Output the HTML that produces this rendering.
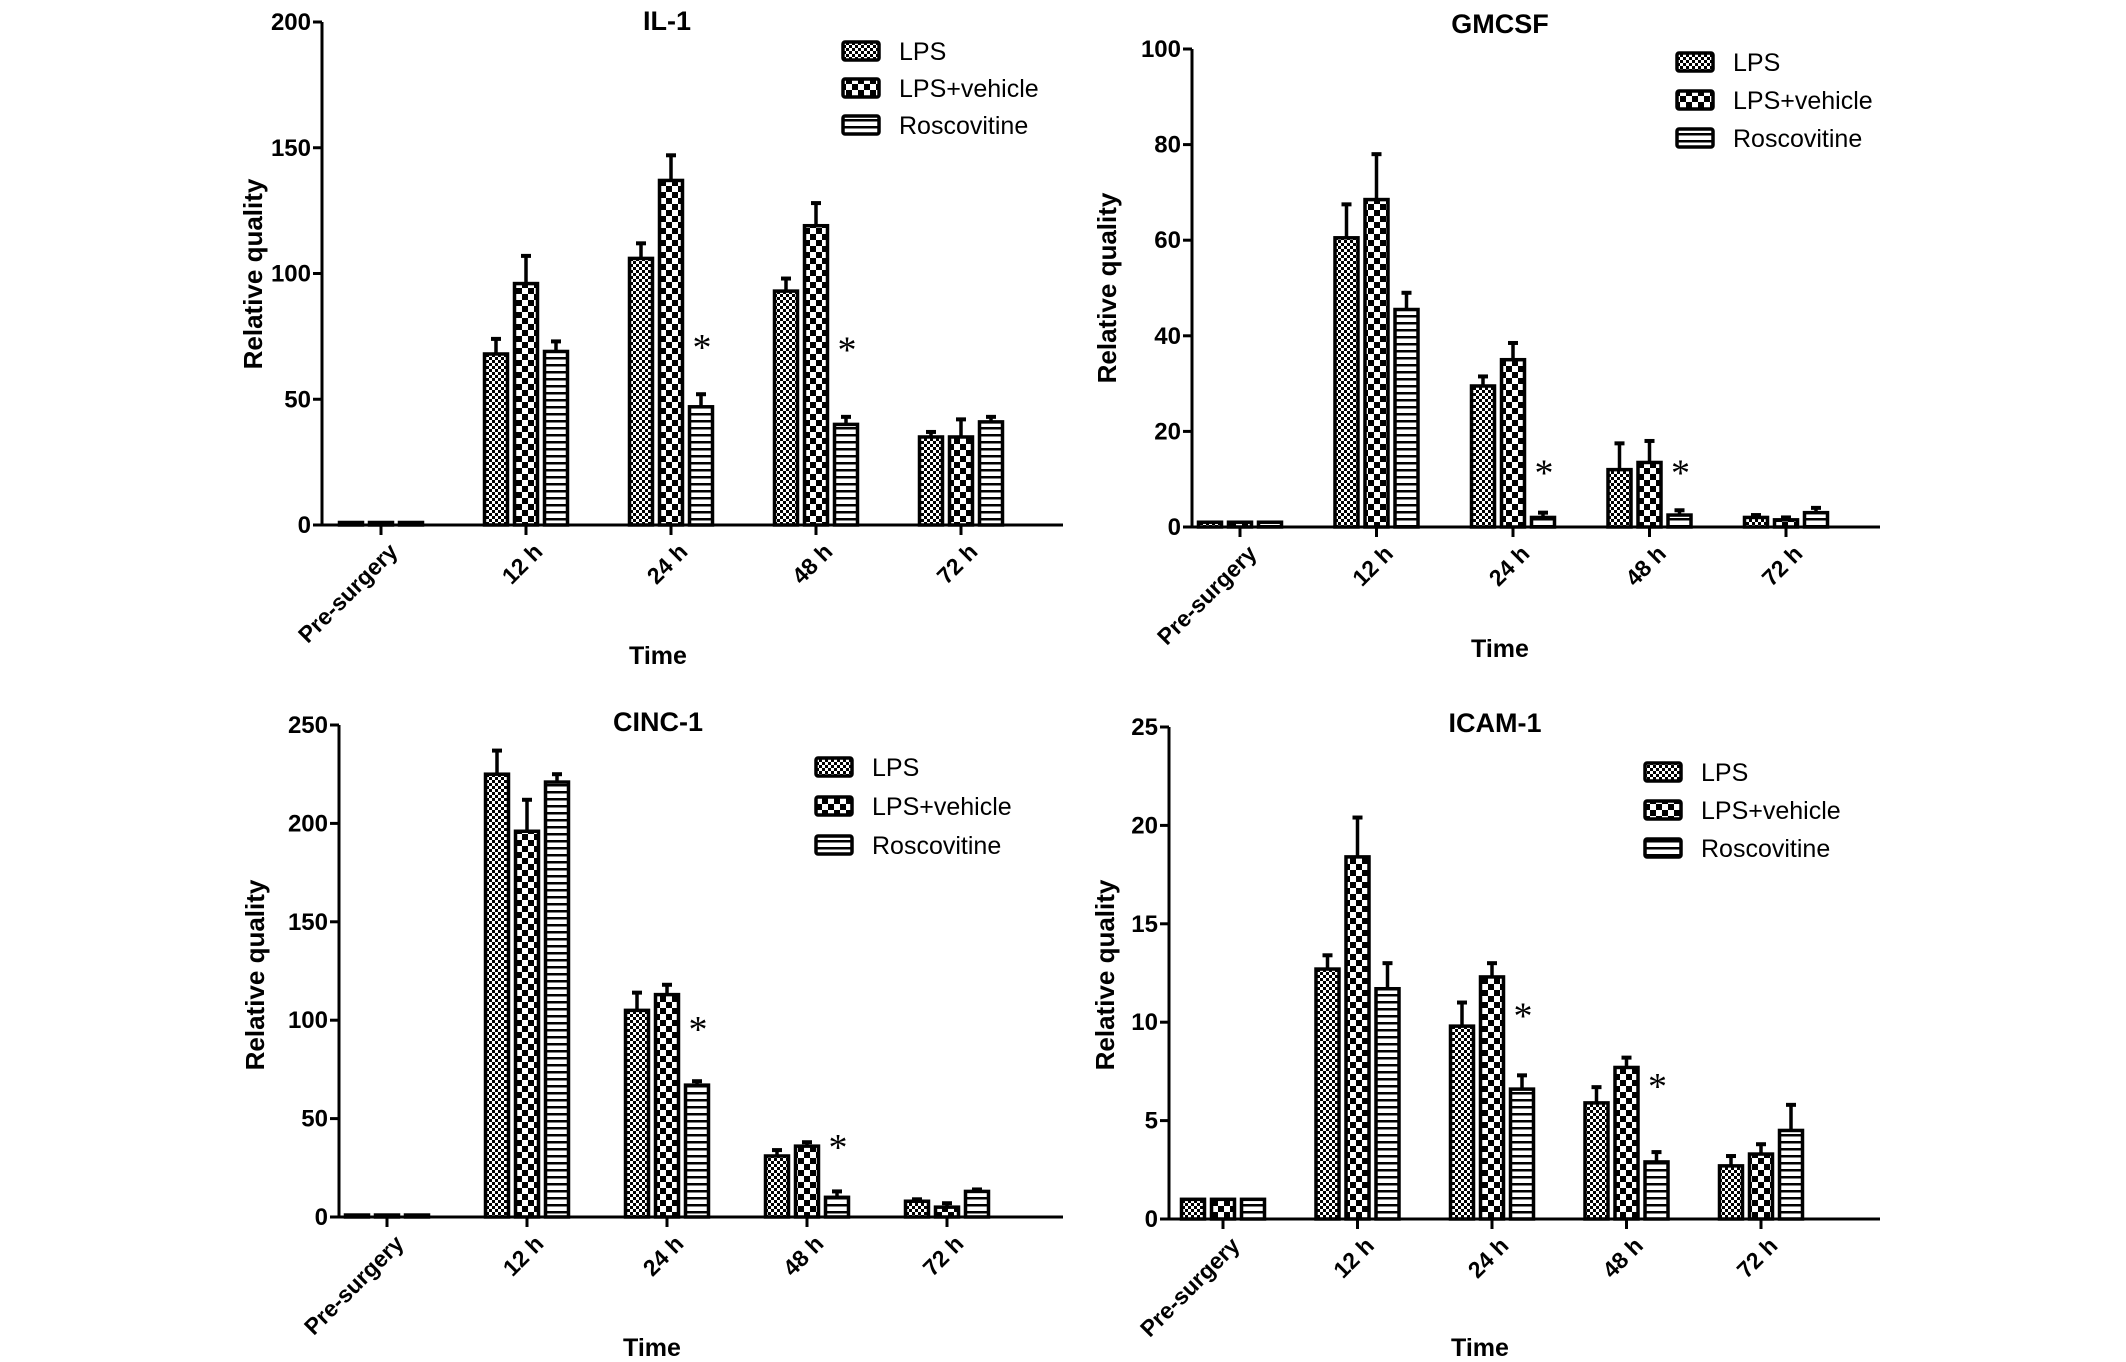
<!DOCTYPE html>
<html><head><meta charset="utf-8">
<style>
html,body{margin:0;padding:0;background:#fff;}
svg{display:block;font-family:"Liberation Sans",Arial,sans-serif;}
</style></head>
<body>
<svg id="fig" width="2126" height="1362" viewBox="0 0 2126 1362" xmlns="http://www.w3.org/2000/svg">
<defs>
<pattern id="pLPS" width="6" height="6" patternUnits="userSpaceOnUse">
<rect width="6" height="6" fill="#fff"/><rect width="3" height="3" fill="#000"/><rect x="3" y="3" width="3" height="3" fill="#000"/>
</pattern>
<pattern id="pVeh" width="12" height="12" patternUnits="userSpaceOnUse">
<rect width="12" height="12" fill="#fff"/><rect width="6" height="6" fill="#000"/><rect x="6" y="6" width="6" height="6" fill="#000"/>
</pattern>
<pattern id="pRos" width="6" height="7" patternUnits="userSpaceOnUse">
<rect width="6" height="7" fill="#fff"/><rect width="6" height="2.5" fill="#000"/>
</pattern>
</defs>
</svg>
<script>
const categories = ["Pre-surgery","12 h","24 h","48 h","72 h"];
const seriesNames = ["LPS","LPS+vehicle","Roscovitine"];

const il1Ticks = [0,50,100,150,200];
const il1LPS = [1,68,106,93,35];
const il1LPSErr = [0,6,6,5,2];
const il1Veh = [1,96,137,119,35];
const il1VehErr = [0,11,10,9,7];
const il1Ros = [1,69,47,40,41];
const il1RosErr = [0,4,5,3,2];
const il1Stars = [null,null,72,71,null];

const gmTicks = [0,20,40,60,80,100];
const gmLPS = [1,60.5,29.5,12,2];
const gmLPSErr = [0,7,2,5.5,0.5];
const gmVeh = [1,68.5,35,13.5,1.5];
const gmVehErr = [0,9.5,3.5,4.5,0.5];
const gmRos = [1,45.5,2,2.5,3];
const gmRosErr = [0,3.5,1,1,1];
const gmStars = [null,null,12,12,null];

const cincTicks = [0,50,100,150,200,250];
const cincLPS = [1,225,105,31,8];
const cincLPSErr = [0,12,9,3,1];
const cincVeh = [1,196,113,36,5];
const cincVehErr = [0,16,5,2,2];
const cincRos = [1,221,67,10,13];
const cincRosErr = [0,4,2,3,1];
const cincStars = [null,null,97,37,null];

const icamTicks = [0,5,10,15,20,25];
const icamLPS = [1,12.7,9.8,5.9,2.7];
const icamLPSErr = [0,0.7,1.2,0.8,0.5];
const icamVeh = [1,18.4,12.3,7.7,3.3];
const icamVehErr = [0,2,0.7,0.5,0.5];
const icamRos = [1,11.7,6.6,2.9,4.5];
const icamRosErr = [0,1.3,0.7,0.5,1.3];
const icamStars = [null,null,10.5,6.9,null];

const NS = "http://www.w3.org/2000/svg";
const svg = document.getElementById("fig");
function mk(tag, attrs, parent, text){
  const e = document.createElementNS(NS, tag);
  for (const k in attrs) e.setAttribute(k, attrs[k]);
  if (text !== undefined) e.textContent = text;
  (parent || svg).appendChild(e);
  return e;
}

function panel(cfg){
  const g = mk("g", {});
  
  
  const yMax = cfg.ticks[cfg.ticks.length-1];
  const ys = v => cfg.y0 - (v / yMax) * (cfg.y0 - cfg.yTop);
  const xs = i => cfg.x0c + i * cfg.step;
  const series = [[cfg.lps, cfg.lpsErr, "url(#pLPS)"],[cfg.veh, cfg.vehErr, "url(#pVeh)"],[cfg.ros, cfg.rosErr, "url(#pRos)"]];
  const bw = 23, off = 30;
  series.forEach((s, si) => {
    s[0].forEach((v, i) => {
      const cx = xs(i) + (si - 1) * off;
      const top = ys(v + s[1][i]);
      if (s[1][i] > 0) {
        const eb = mk("line", {x1:cx, x2:cx, y1:ys(v), y2:top, stroke:"#000", "stroke-width":3.5}, g);
        
        
        const cap = mk("line", {x1:cx-5, x2:cx+5, y1:top, y2:top, stroke:"#000", "stroke-width":4}, g);
        
        
      }
      const b = mk("rect", {x:cx-bw/2, y:ys(v), width:bw, height:Math.max(cfg.y0 - ys(v),0), fill:s[2], stroke:"#000", "stroke-width":3.5}, g);
      
      
    });
  });
  cfg.stars.forEach((v, i) => {
    if (v === null) return;
    const t = mk("text", {x:xs(i) + 31, y:ys(v) + 16, "font-size":38, "text-anchor":"middle", "font-family":"Liberation Serif, serif"}, g, "*");
    
    
  });
  const ya = mk("line", {x1:cfg.xAxis, x2:cfg.xAxis, y1:cfg.yTop, y2:cfg.y0 + 1.5, stroke:"#000", "stroke-width":3}, g);
  
  
  const xa = mk("line", {x1:cfg.xAxis - 9, x2:cfg.xEnd, y1:cfg.y0, y2:cfg.y0, stroke:"#000", "stroke-width":3}, g);
  
  
  cfg.ticks.forEach(t => {
    mk("line", {x1:cfg.xAxis - 9, x2:cfg.xAxis, y1:ys(t), y2:ys(t), stroke:"#000", "stroke-width":3}, g);
    const tl = mk("text", {x:cfg.xAxis - 11, y:ys(t) + 8, "font-size":24, "font-weight":"bold", "text-anchor":"end"}, g, String(t));
    
    
  });
  categories.forEach((c, i) => {
    mk("line", {x1:xs(i), x2:xs(i), y1:cfg.y0, y2:cfg.y0 + 10, stroke:"#000", "stroke-width":3}, g);
    const tx = xs(i) + 18, ty = cfg.y0 + 28;
    const tl = mk("text", {x:tx, y:ty, "font-size":23, "font-weight":"bold", "text-anchor":"end", transform:`rotate(-45 ${tx} ${ty})`}, g, c);
    
    
  });
  const ti = mk("text", {x:cfg.titleX, y:cfg.titleY, "font-size":27, "font-weight":"bold", "text-anchor":"middle"}, g, cfg.title);
  
  
  const xt = mk("text", {x:cfg.timeX, y:cfg.timeY, "font-size":25, "font-weight":"bold", "text-anchor":"middle"}, g, "Time");
  
  
  const yt = mk("text", {x:cfg.ylX, y:cfg.ylY, "font-size":26, "font-weight":"bold", "text-anchor":"middle", transform:`rotate(-90 ${cfg.ylX} ${cfg.ylY})`}, g, "Relative quality");
  
  
  const fills = ["url(#pLPS)","url(#pVeh)","url(#pRos)"];
  seriesNames.forEach((n, k) => {
    const ly = cfg.legY + k * cfg.legStep;
    const lg = mk("g", {}, g);
    
    
    mk("rect", {x:cfg.legX, y:ly - 9, width:36, height:18, fill:fills[k], stroke:"#000", "stroke-width":3.5, rx:2}, lg);
    mk("text", {x:cfg.legX + 56, y:ly + 9, "font-size":25}, lg, n);
  });
}

panel({id:"il-1", title:"IL-1", ticks:il1Ticks, lps:il1LPS, lpsErr:il1LPSErr, veh:il1Veh, vehErr:il1VehErr, ros:il1Ros, rosErr:il1RosErr, stars:il1Stars,
  xAxis:322, xEnd:1063, yTop:22, y0:525, x0c:381, step:145, titleX:667, titleY:30, timeX:658, timeY:664, ylX:262, ylY:274,
  legX:843, legY:51, legStep:37});
panel({id:"gmcsf", title:"GMCSF", ticks:gmTicks, lps:gmLPS, lpsErr:gmLPSErr, veh:gmVeh, vehErr:gmVehErr, ros:gmRos, rosErr:gmRosErr, stars:gmStars,
  xAxis:1192, xEnd:1880, yTop:49, y0:527, x0c:1240, step:136.5, titleX:1500, titleY:33, timeX:1500, timeY:657, ylX:1116, ylY:288,
  legX:1677, legY:62, legStep:38});
panel({id:"cinc-1", title:"CINC-1", ticks:cincTicks, lps:cincLPS, lpsErr:cincLPSErr, veh:cincVeh, vehErr:cincVehErr, ros:cincRos, rosErr:cincRosErr, stars:cincStars,
  xAxis:339, xEnd:1063, yTop:725, y0:1217, x0c:387, step:140, titleX:658, titleY:731, timeX:652, timeY:1356, ylX:264, ylY:975,
  legX:816, legY:767, legStep:39});
panel({id:"icam-1", title:"ICAM-1", ticks:icamTicks, lps:icamLPS, lpsErr:icamLPSErr, veh:icamVeh, vehErr:icamVehErr, ros:icamRos, rosErr:icamRosErr, stars:icamStars,
  xAxis:1169, xEnd:1880, yTop:727, y0:1219, x0c:1223, step:134.5, titleX:1495, titleY:732, timeX:1480, timeY:1356, ylX:1114, ylY:975,
  legX:1645, legY:772, legStep:38});
</script>
</body></html>
